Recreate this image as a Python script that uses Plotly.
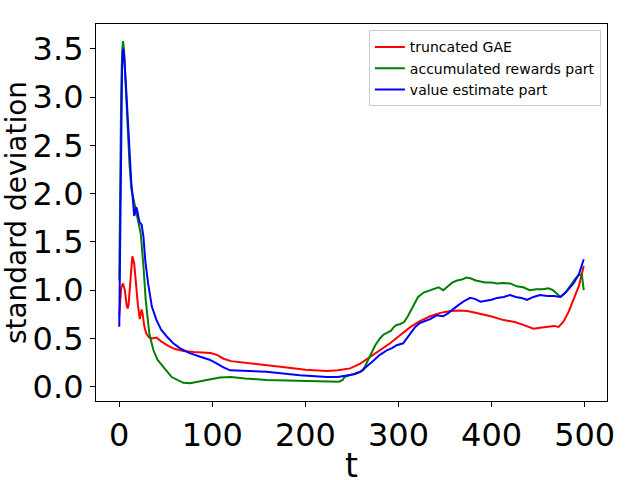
import plotly.graph_objects as go

t_gae = [0, 1, 2, 4, 6, 8, 9, 10, 12, 14, 16, 18, 20, 22, 24, 25, 27, 29, 32, 35, 38, 40, 45, 53, 60, 69, 80, 90, 98, 105, 112, 120, 135, 158, 180, 200, 223, 235, 248, 259, 270, 280, 291, 300, 313, 323, 334, 345, 356, 365, 374, 385, 399, 413, 425, 434, 445, 452, 460, 467, 472, 477, 483, 488, 494, 499]
gae = [0.73, 0.95, 1.02, 1.07, 1.0, 0.84, 0.81, 0.85, 1.15, 1.35, 1.28, 1.05, 0.85, 0.70, 0.80, 0.76, 0.62, 0.55, 0.51, 0.50, 0.51, 0.51, 0.47, 0.42, 0.39, 0.37, 0.36, 0.355, 0.35, 0.33, 0.29, 0.265, 0.25, 0.225, 0.20, 0.175, 0.163, 0.17, 0.19, 0.24, 0.31, 0.38, 0.45, 0.52, 0.62, 0.68, 0.73, 0.765, 0.785, 0.79, 0.785, 0.76, 0.73, 0.69, 0.67, 0.64, 0.60, 0.61, 0.62, 0.63, 0.62, 0.67, 0.78, 0.90, 1.05, 1.25]

t_rew = [0, 1, 2, 3, 4, 5, 7, 9, 11, 13, 16, 18, 20, 23, 26, 28.4, 32.3, 36.6, 41, 47.3, 56.3, 68.8, 76, 94, 108, 120, 135, 158, 194, 236, 240, 242, 248, 255, 262, 266, 270, 275, 280, 284, 288, 292, 295, 298, 302, 306, 310, 315, 321, 327, 332, 338, 343, 348, 353, 358, 363, 368, 373, 378, 383, 388, 393, 400, 406, 412, 420, 427, 434, 441, 448, 455, 461, 466, 470, 474, 479, 484, 490, 494, 497, 499]
rew = [1.1, 2.2, 3.0, 3.45, 3.58, 3.5, 3.1, 2.65, 2.3, 2.05, 1.9, 1.82, 1.73, 1.59, 1.245, 0.90, 0.55, 0.38, 0.28, 0.21, 0.10, 0.04, 0.035, 0.07, 0.095, 0.10, 0.085, 0.07, 0.06, 0.052, 0.07, 0.10, 0.12, 0.14, 0.17, 0.25, 0.33, 0.43, 0.50, 0.54, 0.56, 0.58, 0.62, 0.64, 0.65, 0.67, 0.73, 0.82, 0.93, 0.975, 0.99, 1.01, 1.03, 1.0, 1.04, 1.08, 1.10, 1.11, 1.13, 1.12, 1.10, 1.09, 1.08, 1.08, 1.07, 1.075, 1.07, 1.04, 1.03, 1.00, 1.01, 1.01, 1.02, 1.00, 0.96, 0.93, 0.97, 1.04, 1.12, 1.16, 1.16, 1.0]

t_val = [0, 1, 2, 3, 4, 5, 7, 9, 11, 13, 15, 16, 17, 18, 19, 20, 21, 22, 24, 26, 28, 31, 35, 40, 45, 51, 58, 65, 75, 87, 97, 105, 112, 119, 135, 158, 194, 223, 235, 245, 252, 259, 266, 273, 280, 288, 293, 298, 305, 312, 318, 323, 328, 334, 341, 348, 353, 359, 365, 371, 377, 382, 388, 394, 400, 406, 413, 420, 426, 432, 438, 445, 452, 460, 467, 474, 480, 488, 494, 499]
val = [0.62, 1.6, 2.6, 3.3, 3.50, 3.47, 3.15, 2.75, 2.35, 2.1, 1.9, 1.77, 1.80, 1.86, 1.84, 1.76, 1.74, 1.70, 1.68, 1.55, 1.30, 1.07, 0.83, 0.69, 0.59, 0.52, 0.45, 0.40, 0.35, 0.31, 0.28, 0.24, 0.20, 0.17, 0.165, 0.155, 0.12, 0.10, 0.10, 0.12, 0.13, 0.155, 0.21, 0.27, 0.33, 0.38, 0.40, 0.43, 0.45, 0.54, 0.62, 0.66, 0.68, 0.70, 0.74, 0.73, 0.76, 0.81, 0.85, 0.89, 0.92, 0.91, 0.88, 0.89, 0.90, 0.92, 0.93, 0.95, 0.93, 0.92, 0.90, 0.93, 0.95, 0.94, 0.94, 0.93, 0.98, 1.07, 1.17, 1.32]

x_ticks = [0, 100, 200, 300, 400, 500]
y_ticks = [0.0, 0.5, 1.0, 1.5, 2.0, 2.5, 3.0, 3.5]

fig = go.Figure()
fig.add_trace(go.Scatter(x=t_gae, y=gae, mode="lines", name="truncated GAE",
                         line=dict(color="red", width=2)))
fig.add_trace(go.Scatter(x=t_rew, y=rew, mode="lines", name="accumulated rewards part",
                         line=dict(color="green", width=2)))
fig.add_trace(go.Scatter(x=t_val, y=val, mode="lines", name="value estimate part",
                         line=dict(color="blue", width=2)))

axis_common = dict(showgrid=False, zeroline=False, showline=True, linecolor="black",
                   linewidth=1.2, mirror=True, ticks="outside", ticklen=5, tickwidth=1,
                   tickcolor="black", tickfont=dict(size=32, color="black"),
                   automargin=False)

fig.update_layout(
    width=640, height=480,
    paper_bgcolor="white", plot_bgcolor="white",
    font=dict(family="DejaVu Sans", color="black"),
    margin=dict(l=96, r=33, t=24, b=79),
    xaxis=dict(range=[-25, 524], tickvals=x_ticks, ticktext=[str(v) for v in x_ticks],
               **axis_common),
    yaxis=dict(range=[-0.148, 3.757], tickvals=y_ticks, ticktext=[f"{v:.1f}" for v in y_ticks],
               title=dict(text="standard deviation", font=dict(size=28), standoff=4), **axis_common),
    legend=dict(x=0.988, y=0.983, xanchor="right", yanchor="top",
                bgcolor="rgba(255,255,255,0.8)", bordercolor="#cccccc", borderwidth=1,
                font=dict(size=14, color="black"), tracegroupgap=0, itemwidth=30),
    showlegend=True,
    annotations=[dict(text="t", xref="paper", yref="paper", x=0.5, y=-0.115,
                      xanchor="center", yanchor="top", showarrow=False,
                      font=dict(size=33, color="black"))],
)

fig.write_html("out.html", config={"displayModeBar": False},
               post_script="document.body.style.margin='0';document.body.style.overflow='hidden';")
